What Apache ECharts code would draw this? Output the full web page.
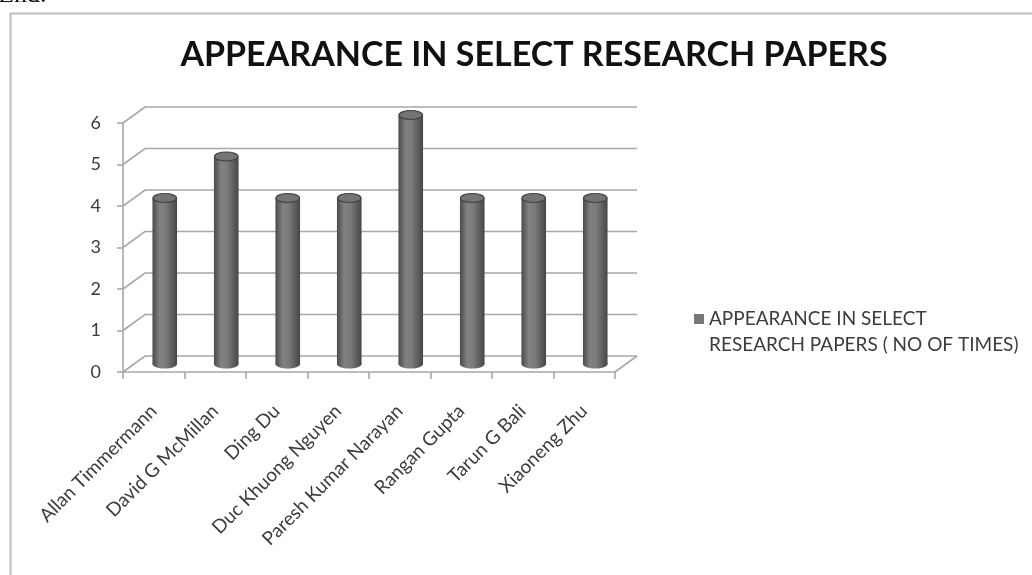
<!DOCTYPE html>
<html>
<head>
<meta charset="utf-8">
<script src="https://cdn.jsdelivr.net/npm/echarts@6/dist/echarts.min.js"></script>
<style>
  html, body { margin: 0; padding: 0; background: #ffffff; }
  #chart { width: 1032px; height: 575px; }
</style>
</head>
<body>
<div id="chart"></div>
<script>
// Authors and how often each appears in the selected research papers
const authors = [
  'Allan Timmermann', 'David G McMillan', 'Ding Du', 'Duc Khuong Nguyen',
  'Paresh Kumar Narayan', 'Rangan Gupta', 'Tarun G Bali', 'Xiaoneng Zhu'
];
const appearances = [4, 5, 4, 4, 6, 4, 4, 4];
const gridValues = [0, 1, 2, 3, 4, 5, 6];
const seriesName = 'APPEARANCE IN SELECT RESEARCH PAPERS ( NO OF TIMES)';

// depth offset of the pseudo-3D back wall
const DX = 22, DY = -16;
const LINE = '#a8a8a8';

const chart = echarts.init(document.getElementById('chart'), null, { renderer: 'canvas' });

function renderWall(params, api) {
  const cs = params.coordSys;
  const v = api.value(1);
  const y = api.coord([0, v])[1];
  const x0 = cs.x, x1 = cs.x + cs.width;
  const children = [{
    type: 'polyline',
    shape: { points: [[x0, y], [x0 + DX, y + DY], [x1 + DX, y + DY]] },
    style: { stroke: LINE, lineWidth: 1.6, fill: null }
  }];
  if (v === 0) {
    children.push({
      type: 'line',
      shape: { x1: x1, y1: y, x2: x1 + DX, y2: y + DY },
      style: { stroke: LINE, lineWidth: 1.6 }
    });
  }
  return { type: 'group', children: children, silent: true };
}

function renderCylinder(params, api) {
  const i = api.value(0);
  const v = api.value(1);
  const top = api.coord([i, v]);
  const base = api.coord([i, 0]);
  const w = api.size([1, 0])[0] * 0.4;
  const cx = top[0] + DX / 2;
  const topY = top[1] + DY / 2;
  const botY = base[1] + DY / 2;
  const ry = 4.5;
  const bodyFill = new echarts.graphic.LinearGradient(0, 0, 1, 0, [
    { offset: 0, color: '#4a4a4a' },
    { offset: 0.3, color: '#828282' },
    { offset: 0.55, color: '#7a7a7a' },
    { offset: 1, color: '#464646' }
  ]);
  return {
    type: 'group',
    children: [
      {
        type: 'ellipse',
        shape: { cx: cx, cy: botY, rx: w / 2, ry: ry },
        style: { fill: bodyFill }
      },
      {
        type: 'rect',
        shape: { x: cx - w / 2, y: topY, width: w, height: botY - topY },
        style: { fill: bodyFill }
      },
      {
        type: 'ellipse',
        shape: { cx: cx, cy: topY, rx: w / 2 - 0.5, ry: ry },
        style: { fill: '#747474', stroke: '#444444', lineWidth: 1.2 }
      }
    ]
  };
}

const option = {
  backgroundColor: '#ffffff',
  animation: false,
  title: {
    text: 'APPEARANCE IN SELECT RESEARCH PAPERS',
    left: 529,
    textAlign: 'center',
    top: 33,
    textStyle: { fontFamily: 'Lato', fontWeight: 'bold', fontSize: 34, color: '#111111' }
  },
  legend: {
    data: [seriesName],
    orient: 'vertical',
    left: 689,
    top: 301,
    // square sits beside the first text line
    icon: 'path://M0,0h10v10h-10z M10,36',
    itemWidth: 10,
    itemHeight: 36,
    selectedMode: false,
    formatter: function () { return 'APPEARANCE IN SELECT\nRESEARCH PAPERS ( NO OF TIMES)'; },
    textStyle: { fontFamily: 'Lato', fontSize: 19, color: '#3c3c3c', lineHeight: 26 }
  },
  grid: { left: 123, right: 417, top: 123, bottom: 203, containLabel: false },
  xAxis: {
    type: 'category',
    data: authors,
    boundaryGap: true,
    axisLine: { show: true, lineStyle: { color: LINE, width: 1.6 } },
    axisTick: { show: true, length: 7, alignWithLabel: false, lineStyle: { color: LINE, width: 1.6 } },
    axisLabel: {
      interval: 0, rotate: 45, margin: 36,
      fontFamily: 'Lato', fontSize: 19, color: '#3c3c3c'
    },
    splitLine: { show: false }
  },
  yAxis: {
    type: 'value',
    min: 0, max: 6, interval: 1,
    axisLine: { show: true, lineStyle: { color: LINE, width: 1.6 } },
    axisTick: { show: true, length: 6, lineStyle: { color: LINE, width: 1.6 } },
    axisLabel: { margin: 22, fontFamily: 'Lato', fontSize: 18, color: '#3c3c3c' },
    splitLine: { show: false }
  },
  graphic: [
    {
      type: 'rect',
      left: 8, top: 11,
      shape: { x: 0, y: 0, width: 1200, height: 800 },
      style: { fill: null, stroke: '#bdbdbd', lineWidth: 2 },
      silent: true, z: -10
    },
    {
      type: 'text',
      x: -2, y: 8,
      style: { text: 'End.', fontFamily: 'Liberation Serif', fontSize: 26, fill: '#111111', verticalAlign: 'bottom' },
      silent: true
    }
  ],
  series: [
    {
      name: 'wall',
      type: 'custom',
      renderItem: renderWall,
      data: gridValues.map(function (v) { return [0, v]; }),
      encode: { x: 0, y: 1 },
      silent: true,
      z: 1
    },
    {
      name: seriesName,
      type: 'custom',
      renderItem: renderCylinder,
      itemStyle: { color: '#777777' },
      data: appearances.map(function (v, i) { return [i, v]; }),
      encode: { x: 0, y: 1 },
      z: 5
    }
  ]
};

chart.setOption(option);
</script>
</body>
</html>
